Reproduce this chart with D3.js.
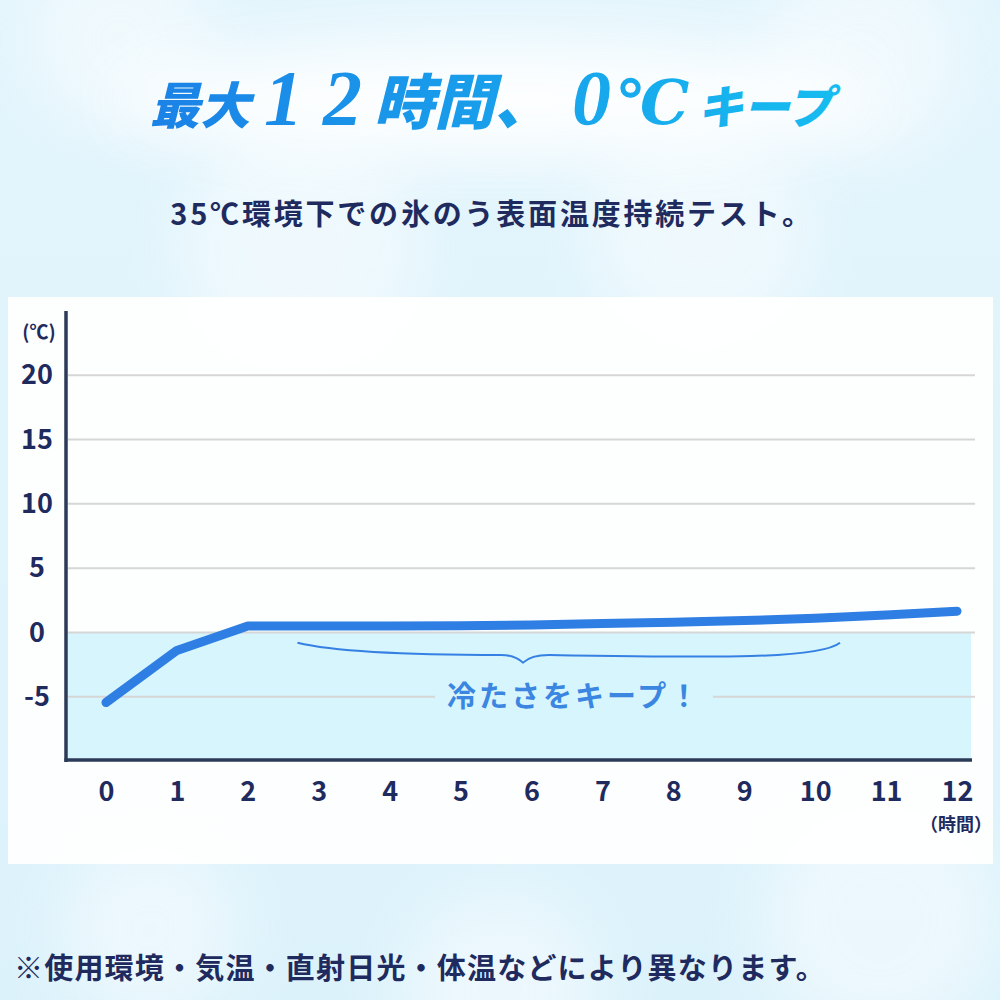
<!DOCTYPE html>
<html>
<head>
<meta charset="utf-8">
<script src="https://cdn.jsdelivr.net/npm/d3@7"></script>
<style>
  html, body { margin: 0; padding: 0; background: #def3fb; }
  svg { display: block; }
</style>
</head>
<body>
<div id="chart"></div>
<script>
// data
const hours = [0, 1, 2, 3, 4, 5, 6, 7, 8, 9, 10, 11, 12];
const temps = [-5.45, -1.4, 0.5, 0.5, 0.5, 0.52, 0.58, 0.7, 0.8, 0.92, 1.1, 1.35, 1.65];
const yTicks = [-5, 0, 5, 10, 15, 20];
const xTickLabels = ['0', '1', '2', '3', '4', '5', '6', '7', '8', '9', '10', '11', '12'];
const brace = { start: 2.7, tip: 5.88, end: 10.35, top: -0.8, mid: -1.75, low: -2.35 };

const W = 1000, H = 1000;
const navy = '#1f2b5e';
const jp = '"Noto Sans CJK JP", "Noto Sans", sans-serif';

const svg = d3.select('#chart').append('svg').attr('width', W).attr('height', H);
const defs = svg.append('defs');

// background
const bg = defs.append('linearGradient').attr('id', 'bg').attr('x1', 0).attr('y1', 0).attr('x2', 0).attr('y2', 1);
bg.append('stop').attr('offset', 0).attr('stop-color', '#e3f5fc');
bg.append('stop').attr('offset', 1).attr('stop-color', '#dcf2fb');
svg.append('rect').attr('width', W).attr('height', H).attr('fill', 'url(#bg)');

defs.append('filter').attr('id', 'blur').attr('x', '-50%').attr('y', '-50%').attr('width', '200%').attr('height', '200%')
    .append('feGaussianBlur').attr('stdDeviation', 30);
// soft texture blobs
[[120, 40, 90], [860, 60, 100], [300, 250, 120], [700, 230, 110], [150, 930, 90], [880, 920, 120], [500, 990, 100]]
    .forEach(b => svg.append('circle').attr('cx', b[0]).attr('cy', b[1]).attr('r', b[2])
        .attr('fill', '#ffffff').attr('opacity', 0.45).attr('filter', 'url(#blur)'));

// glow behind title
svg.append('ellipse').attr('cx', 497).attr('cy', 100).attr('rx', 380).attr('ry', 60)
    .attr('fill', '#ffffff').attr('opacity', 0.9).attr('filter', 'url(#blur)');

// title
const tg = defs.append('linearGradient').attr('id', 'titleGrad').attr('gradientUnits', 'userSpaceOnUse')
    .attr('x1', 150).attr('y1', 0).attr('x2', 850).attr('y2', 0);
tg.append('stop').attr('offset', 0).attr('stop-color', '#1b82e6');
tg.append('stop').attr('offset', 1).attr('stop-color', '#16bdf0');

const title = svg.append('text')
    .attr('x', 150).attr('y', 124)
    .attr('fill', 'url(#titleGrad)')
    .attr('font-style', 'italic')
    .attr('font-weight', 700);
title.append('tspan').attr('font-family', jp).attr('font-size', 50).attr('font-weight', 900).text('最大');
title.append('tspan').attr('dx', 14).attr('font-family', '"Liberation Serif", serif').attr('font-size', 78)
    .attr('letter-spacing', 20).text('12');
title.append('tspan').attr('dx', -8).attr('font-family', jp).attr('font-size', 60).attr('font-weight', 900).text('時間、');
title.append('tspan').attr('dx', 18).attr('font-family', '"Liberation Serif", serif').attr('font-size', 78).text('0');
title.append('tspan').attr('dx', 4).attr('font-family', '"DejaVu Serif", serif').attr('font-size', 62).text('℃');
title.append('tspan').attr('dx', 8).attr('font-family', jp).attr('font-size', 46).attr('font-weight', 900).text('キープ');

// subtitle
svg.append('text')
    .attr('x', 492).attr('y', 225)
    .attr('text-anchor', 'middle')
    .attr('font-family', jp).attr('font-size', 29).attr('font-weight', 700)
    .attr('letter-spacing', 2.8)
    .attr('fill', navy)
    .text('35℃環境下での氷のう表面温度持続テスト。');

// panel
svg.append('rect').attr('x', 8).attr('y', 297).attr('width', 985).attr('height', 567)
    .attr('fill', '#ffffff').attr('opacity', 0.93);

// scales
const x = d3.scaleLinear().domain([0, 12]).range([106, 957]);
const y = d3.scaleLinear().domain([-10, 25]).range([761, 311]);
const plotLeft = 66, plotRight = 975;

// cold region
svg.append('rect')
    .attr('x', plotLeft + 2).attr('y', y(0))
    .attr('width', 971 - plotLeft - 2).attr('height', y(-10) - y(0))
    .attr('fill', '#d6f5fd');

// grid
svg.append('g').selectAll('line').data(yTicks).join('line')
    .attr('x1', plotLeft + 2).attr('x2', plotRight)
    .attr('y1', d => y(d)).attr('y2', d => y(d))
    .attr('stroke', '#d6d6d6').attr('stroke-width', 2);

// y axis labels
const yAxis = svg.append('g').attr('transform', 'translate(37,0)')
    .call(d3.axisLeft(y).tickValues(yTicks).tickSize(0).tickPadding(0).tickFormat(d => String(d)));
yAxis.select('.domain').remove();
yAxis.selectAll('text')
    .attr('text-anchor', 'middle')
    .attr('font-family', jp).attr('font-size', 27).attr('font-weight', 700)
    .attr('fill', navy);
svg.append('text').attr('x', 39).attr('y', 339).attr('text-anchor', 'middle')
    .attr('font-family', jp).attr('font-size', 19).attr('font-weight', 700).attr('fill', navy)
    .text('(℃)');

// x axis labels
const xAxis = svg.append('g').attr('transform', 'translate(0,782)')
    .call(d3.axisBottom(x).tickValues(hours).tickSize(0).tickPadding(0).tickFormat((d, i) => xTickLabels[i]));
xAxis.select('.domain').remove();
xAxis.selectAll('text')
    .attr('font-family', jp).attr('font-size', 27).attr('font-weight', 700)
    .attr('fill', navy);
svg.append('text').attr('x', 956).attr('y', 831).attr('text-anchor', 'middle')
    .attr('font-family', jp).attr('font-size', 18).attr('font-weight', 700).attr('fill', navy)
    .text('（時間）');

// brace
const bp = d3.path();
const bx0 = x(brace.start), bx1 = x(brace.end), bt = x(brace.tip);
bp.moveTo(bx0, y(brace.top));
bp.bezierCurveTo(bx0 + 50, y(brace.mid), bt - 60, y(brace.mid), bt - 22, y(brace.mid));
bp.quadraticCurveTo(bt - 8, y(brace.mid), bt, y(brace.low));
bp.quadraticCurveTo(bt + 8, y(brace.mid), bt + 26, y(brace.mid));
bp.bezierCurveTo(bx1 - 120, y(brace.mid) + 3, bx1 - 20, y(brace.mid) + 4, bx1, y(brace.top));
svg.append('path').attr('d', bp.toString())
    .attr('fill', 'none').attr('stroke', '#3580e2').attr('stroke-width', 2);

// label on -5 line
const lx = x(6.6), ly = y(-5);
svg.append('rect').attr('x', lx - 139).attr('y', ly - 20).attr('width', 278).attr('height', 40)
    .attr('fill', '#d6f5fd');
svg.append('text').attr('x', lx).attr('y', ly + 10).attr('text-anchor', 'middle')
    .attr('font-family', jp).attr('font-size', 29).attr('font-weight', 700)
    .attr('letter-spacing', 3)
    .attr('fill', '#3b86e0')
    .text('冷たさをキープ！');

// axes lines
svg.append('line').attr('x1', plotLeft).attr('x2', plotLeft).attr('y1', 311).attr('y2', 762)
    .attr('stroke', '#2b3a57').attr('stroke-width', 3.5);
svg.append('line').attr('x1', plotLeft - 1.5).attr('x2', 972).attr('y1', 760).attr('y2', 760)
    .attr('stroke', '#2b3a57').attr('stroke-width', 3.5);

// temperature line
const line = d3.line().x((d, i) => x(hours[i])).y(d => y(d));
svg.append('path').datum(temps)
    .attr('d', line)
    .attr('fill', 'none')
    .attr('stroke', '#2f7ee3')
    .attr('stroke-width', 9)
    .attr('stroke-linecap', 'round')
    .attr('stroke-linejoin', 'round');

// footnote
svg.append('text').attr('x', 14).attr('y', 979)
    .attr('font-family', jp).attr('font-size', 29).attr('font-weight', 700)
    .attr('letter-spacing', 1.2)
    .attr('fill', navy)
    .text('※使用環境・気温・直射日光・体温などにより異なります。');
</script>
</body>
</html>
